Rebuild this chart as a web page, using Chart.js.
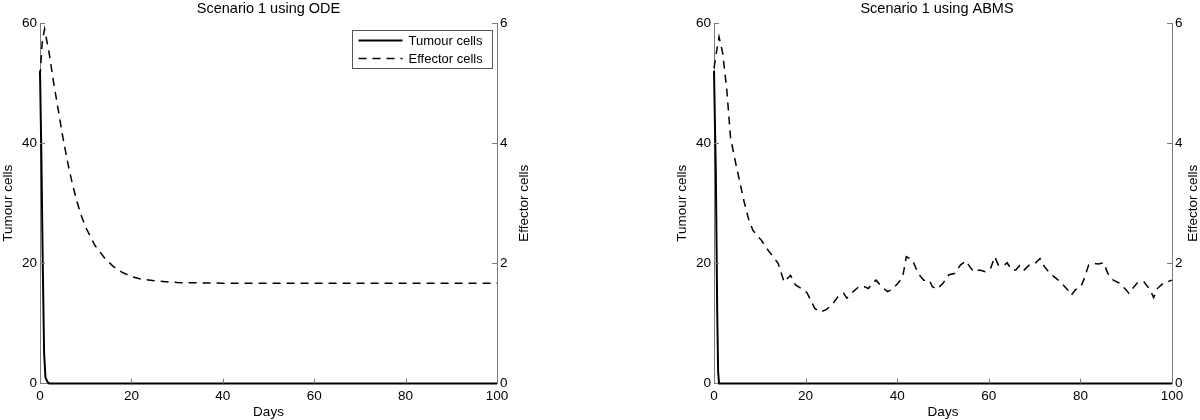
<!DOCTYPE html>
<html><head><meta charset="utf-8">
<script src="https://cdn.jsdelivr.net/npm/chart.js@4"></script>
<style>
body{margin:0;background:#fff;width:1200px;height:420px;overflow:hidden;position:relative;font-family:"Liberation Sans",Arial,sans-serif}
.c{position:absolute;top:0;height:420px}
</style></head><body>
<div class="c" style="left:0;width:537px"><canvas id="ode"></canvas></div>
<div class="c" style="left:674px;width:526px"><canvas id="abms"></canvas></div>
<script>
// ---- data ----
const dayTicks = [0, 20, 40, 60, 80, 100];
const tumourTicks = [0, 20, 40, 60];
const effectorTicks = [0, 2, 4, 6];

const odeTumourDays = [0, 0.3, 0.6, 0.9, 1.2, 1.6, 2, 100];
const odeTumour     = [52, 38, 20, 5, 1, 0.3, 0, 0];
const odeEffDays = [0, 0.5, 1, 2, 3, 4, 5, 6, 7, 8, 9, 10, 12, 14, 16, 18, 20, 22, 25, 30, 40, 60, 80, 100];
const odeEff     = [5.1, 5.7, 5.9, 5.5, 5.0, 4.55, 4.1, 3.7, 3.35, 3.05, 2.8, 2.6, 2.3, 2.1, 1.95, 1.85, 1.78, 1.74, 1.71, 1.68, 1.67, 1.67, 1.67, 1.67];

const abmsTumourDays = [0, 0.4, 0.7, 0.9, 1.1, 100];
const abmsTumour     = [52, 35, 12, 2, 0, 0];
const abmsEffDays = [0, 0.5, 1.1, 1.9, 2.8, 3.6, 4.5, 5.5, 6.5, 7.5, 8.5, 9.5, 10.3, 11.5, 14, 15.3, 16.7, 17.8, 19.5, 20.3, 22, 23.2, 24.5, 25.8, 27, 28.3, 29, 30.4, 31.6, 32.9, 33.7, 34.5, 35.4, 36.6, 37.9, 39, 40.4, 41.2, 42, 43.3, 44.6, 45.8, 47, 47.7, 48.7, 50, 51.3, 52.5, 53.8, 55, 55.9, 56.7, 58, 59.2, 60.4, 61.3, 62.1, 63.4, 64, 65, 65.9, 66.7, 67.6, 68.8, 70, 71.2, 72.2, 73.4, 74.7, 75.9, 77.2, 78, 78.9, 80.1, 80.7, 81.8, 83, 83.9, 85.1, 86, 87.2, 88.5, 89.7, 90.6, 91.4, 92.6, 93.9, 95.2, 96, 96.8, 98.1, 100];
const abmsEff     = [5.25, 5.5, 5.77, 5.5, 4.88, 4.1, 3.75, 3.4, 3.05, 2.75, 2.55, 2.45, 2.39, 2.25, 2.0, 1.69, 1.8, 1.64, 1.56, 1.51, 1.25, 1.19, 1.23, 1.31, 1.44, 1.5, 1.42, 1.53, 1.61, 1.61, 1.58, 1.66, 1.72, 1.61, 1.53, 1.57, 1.69, 1.78, 2.11, 2.06, 1.83, 1.72, 1.72, 1.61, 1.57, 1.67, 1.81, 1.83, 1.97, 2.04, 1.94, 1.86, 1.89, 1.86, 1.92, 2.11, 1.97, 1.97, 2.01, 1.89, 1.89, 1.96, 1.88, 1.97, 1.99, 2.08, 1.94, 1.83, 1.75, 1.67, 1.56, 1.47, 1.56, 1.61, 1.72, 1.97, 2.0, 1.99, 2.01, 1.83, 1.72, 1.67, 1.58, 1.5, 1.58, 1.69, 1.69, 1.56, 1.43, 1.58, 1.67, 1.72];

const pts = (xs, ys) => xs.map((x, i) => ({x, y: ys[i]}));
const FAMILY = '"Liberation Sans", Arial, sans-serif';
const FONT = {family: FAMILY, size: 13.5, lineHeight: 1.0};
const AXIS = '#7a7a7a';

const innerTicks = {
  id: 'innerTicks',
  afterDraw(chart) {
    const {ctx, chartArea: a, scales} = chart;
    ctx.save();
    ctx.strokeStyle = AXIS; ctx.lineWidth = 1;
    const L = 5;
    scales.x.ticks.forEach(t => {
      if (t.value <= 0 || t.value >= 100) return;
      const p = Math.round(scales.x.getPixelForValue(t.value)) + 0.5;
      ctx.beginPath(); ctx.moveTo(p, a.bottom); ctx.lineTo(p, a.bottom - L); ctx.stroke();
    });
    scales.y.ticks.forEach(t => {
      if (t.value <= 0) return;
      const p = Math.round(scales.y.getPixelForValue(t.value)) + 0.5;
      ctx.beginPath(); ctx.moveTo(a.left, p); ctx.lineTo(a.left + L, p); ctx.stroke();
    });
    scales.y1.ticks.forEach(t => {
      if (t.value <= 0) return;
      const p = Math.round(scales.y1.getPixelForValue(t.value)) + 0.5;
      ctx.beginPath(); ctx.moveTo(a.right, p); ctx.lineTo(a.right - L, p); ctx.stroke();
    });
    ctx.restore();
  }
};

// right-axis title reading bottom-to-top, as in the reference
const rightTitle = {
  id: 'rightTitle',
  afterDraw(chart, args, opts) {
    const {ctx, chartArea: a} = chart;
    ctx.save();
    ctx.translate(a.right + opts.offset, (a.top + a.bottom) / 2);
    ctx.rotate(-Math.PI / 2);
    ctx.font = '13.5px ' + FAMILY;
    ctx.fillStyle = '#000'; ctx.textAlign = 'center'; ctx.textBaseline = 'middle';
    ctx.fillText(opts.text, 0, 0);
    ctx.restore();
  }
};

const boxLegend = {
  id: 'boxLegend',
  afterDraw(chart, args, opts) {
    if (!opts.show) return;
    const {ctx, chartArea: a} = chart;
    const w = 140, h = 38;
    const x = Math.round(a.right - 5 - w) + 0.5, y = Math.round(a.top + 7) + 0.5;
    ctx.save();
    ctx.fillStyle = '#fff'; ctx.fillRect(x, y, w, h);
    ctx.strokeStyle = '#555'; ctx.lineWidth = 1; ctx.strokeRect(x, y, w, h);
    ctx.font = '13px ' + FAMILY;
    ctx.fillStyle = '#000'; ctx.textBaseline = 'middle';
    chart.data.datasets.forEach((ds, i) => {
      const yy = y + 10 + i * 18;
      ctx.beginPath();
      ctx.setLineDash(ds.borderDash || []);
      ctx.lineWidth = ds.borderWidth; ctx.strokeStyle = '#000';
      ctx.moveTo(x + 6, yy); ctx.lineTo(x + 50, yy); ctx.stroke();
      ctx.setLineDash([]);
      ctx.fillText(ds.label, x + 56, yy + 1);
    });
    ctx.restore();
  }
};

function makeChart(id, title, tDays, tVals, eDays, eVals, legend, rightW, rtOffset) {
  const fitW = w => function (s) { s.width = w; };
  return new Chart(document.getElementById(id), {
    type: 'line',
    data: {
      datasets: [
        {label: 'Tumour cells', data: pts(tDays, tVals), yAxisID: 'y', borderColor: '#000', borderWidth: 2, pointRadius: 0, tension: 0, clip: false},
        {label: 'Effector cells', data: pts(eDays, eVals), yAxisID: 'y1', borderColor: '#000', borderWidth: 1.5, borderDash: [8, 6], pointRadius: 0, tension: 0, clip: false}
      ]
    },
    options: {
      responsive: true, maintainAspectRatio: false, animation: false,
      layout: {padding: {top: 0, bottom: 0.5, left: 0, right: 0}},
      plugins: {
        legend: {display: false}, tooltip: {enabled: false},
        title: {display: true, text: title, color: '#000', font: {family: FAMILY, size: 14.5, weight: 'normal'}, padding: {top: 0, bottom: 5.6}},
        boxLegend: {show: legend},
        rightTitle: {text: 'Effector cells', offset: rtOffset}
      },
      scales: {
        x: {
          type: 'linear', min: 0, max: 100,
          afterBuildTicks: s => { s.ticks = dayTicks.map(v => ({value: v})); },
          ticks: {color: '#000', font: FONT, padding: 6, maxRotation: 0, autoSkip: false},
          grid: {display: false, drawTicks: false},
          border: {display: true, color: AXIS, width: 1},
          title: {display: true, text: 'Days', color: '#000', font: FONT, padding: {top: -3, bottom: 0}}
        },
        y: {
          position: 'left', min: 0, max: 60,
          afterBuildTicks: s => { s.ticks = tumourTicks.map(v => ({value: v})); },
          afterFit: fitW(40),
          ticks: {color: '#000', font: FONT, padding: 3, autoSkip: false},
          grid: {display: false, drawTicks: false},
          border: {display: true, color: AXIS, width: 1},
          title: {display: true, text: 'Tumour cells', color: '#000', font: {family: FAMILY, size: 13.5}, padding: {top: 0, bottom: 0}}
        },
        y1: {
          position: 'right', min: 0, max: 6,
          afterBuildTicks: s => { s.ticks = effectorTicks.map(v => ({value: v})); },
          afterFit: fitW(rightW),
          ticks: {color: '#000', font: FONT, padding: 3, autoSkip: false},
          grid: {display: false, drawTicks: false},
          border: {display: true, color: AXIS, width: 1},
          title: {display: false}
        }
      }
    },
    plugins: [innerTicks, boxLegend, rightTitle]
  });
}

makeChart('ode', 'Scenario 1 using ODE', odeTumourDays, odeTumour, odeEffDays, odeEff, true, 40, 27);
makeChart('abms', 'Scenario 1 using ABMS', abmsTumourDays, abmsTumour, abmsEffDays, abmsEff, false, 28, 21);
</script>
</body></html>
